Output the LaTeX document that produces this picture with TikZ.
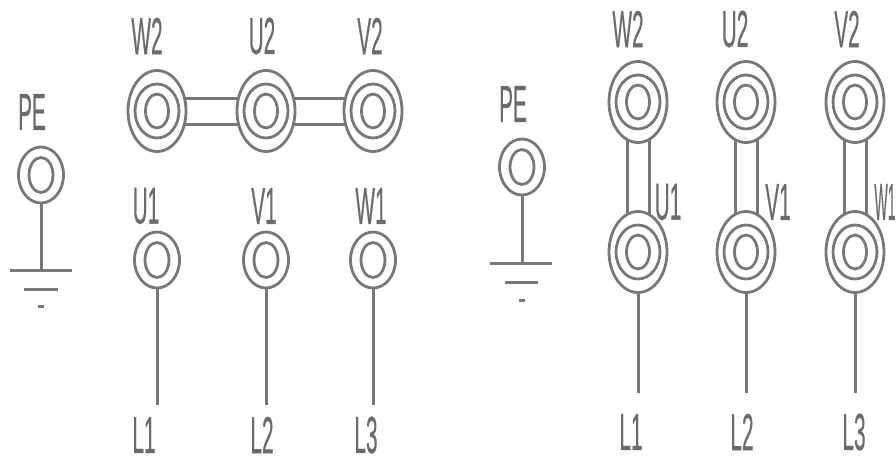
\documentclass[tikz,border=0pt]{standalone}
\usepackage{fontspec}
\setmainfont{Liberation Sans}[FakeBold=0.6]
\usetikzlibrary{shapes.geometric,calc}
\definecolor{ink}{gray}{0.47}
\definecolor{labink}{gray}{0.42}
\tikzset{
 x=1pt,y=-1pt,
 ring/.style={ellipse,draw=ink,line width=2.8pt,inner sep=0pt,fill=none},
 bigout/.style={ring,minimum width=58pt,minimum height=81pt},
 bigmid/.style={ring,minimum width=44pt,minimum height=54pt},
 bigin/.style={ring,minimum width=23pt,minimum height=34pt},
 smallout/.style={ring,minimum width=45pt,minimum height=56pt},
 smallin/.style={ring,minimum width=24pt,minimum height=35pt},
 wire/.style={draw=ink,line width=3pt},
 lab/.style={inner sep=0pt,text=labink,font=\fontsize{52}{52}\selectfont,xscale=0.4},
 labtight/.style={lab,xscale=0.68},
}
\newcommand{\bigterm}[2]{\node[bigout] (#1) at (#2) {}; \node[bigmid] (#1m) at (#2) {}; \node[bigin] (#1i) at (#2) {};}
\newcommand{\smallterm}[2]{\node[smallout] (#1) at (#2) {}; \node[smallin] (#1i) at (#2) {};}
\begin{document}
\begin{tikzpicture}
\useasboundingbox (0,0) rectangle (896,458);
% left block
\node[lab] (lPE) at (32,112) {PE};
\smallterm{lp}{41,175}
\node[lab] at (147,36) {W2};
\node[lab] at (262,36) {U2};
\node[lab] at (370,36) {V2};
\bigterm{lw}{157,111}
\bigterm{lu}{266,111}
\bigterm{lv}{373,111}
\node[lab] at (146,206) {U1};
\node[lab] at (264,206) {V1};
\node[lab] at (371,206) {W1};
\smallterm{la}{157,260}
\smallterm{lb}{266,260}
\smallterm{lc}{373,260}
\node[lab] (ll1) at (144,435) {L1};
\node[lab] (ll2) at (262,435) {L2};
\node[lab] (ll3) at (366,435) {L3};
\coordinate (lg) at (41,270);
\coordinate (lg1) at (10,270); \coordinate (lg2) at (72,270);
\coordinate (lh1) at (24,289); \coordinate (lh2) at (58,289);
\coordinate (lk1) at (38,306); \coordinate (lk2) at (44,306);
\draw[wire] (lp.south) -- (lg);
\draw[wire] (lg1) -- (lg2);
\draw[wire] (lh1) -- (lh2);
\draw[wire] (lk1) -- (lk2);
\foreach \a/\b in {lw/lu,lu/lv}{
 \draw[wire] ($(\a)+(27.5,-13)$) -- ($(\b)+(-27.5,-13)$);
 \draw[wire] ($(\a)+(27.5,13)$) -- ($(\b)+(-27.5,13)$);
}
\coordinate (le1) at (157,405); \coordinate (le2) at (266,405); \coordinate (le3) at (373,405);
\draw[wire] (la.south) -- (le1);
\draw[wire] (lb.south) -- (le2);
\draw[wire] (lc.south) -- (le3);
% right block
\node[lab] at (513,104) {PE};
\smallterm{rp}{522,167}
\node[lab] at (628,29) {W2};
\node[lab] at (735,29) {U2};
\node[lab] at (847,29) {V2};
\bigterm{rwt}{638,102}
\bigterm{rut}{746,102}
\bigterm{rvt}{855,102}
\bigterm{rwb}{638,252}
\bigterm{rub}{746,252}
\bigterm{rvb}{855,252}
\node[lab] at (668,202) {U1};
\node[lab] at (778,202) {V1};
\node[labtight] at (885,202) {W1};
\node[lab] at (631,432) {L1};
\node[lab] at (742,432) {L2};
\node[lab] at (854,432) {L3};
\coordinate (rg) at (522,263);
\coordinate (rg1) at (490,263); \coordinate (rg2) at (552,263);
\coordinate (rh1) at (505,282); \coordinate (rh2) at (538,282);
\coordinate (rk1) at (519,300); \coordinate (rk2) at (525,300);
\draw[wire] (rp.south) -- (rg);
\draw[wire] (rg1) -- (rg2);
\draw[wire] (rh1) -- (rh2);
\draw[wire] (rk1) -- (rk2);
\foreach \a/\b in {rwt/rwb,rut/rub,rvt/rvb}{
 \draw[wire] ($(\a)+(-11,37.5)$) -- ($(\b)+(-11,-37.5)$);
 \draw[wire] ($(\a)+(11,37.5)$) -- ($(\b)+(11,-37.5)$);
}
\coordinate (re1) at (638,393); \coordinate (re2) at (746,393); \coordinate (re3) at (855,393);
\draw[wire] (rwb.south) -- (re1);
\draw[wire] (rub.south) -- (re2);
\draw[wire] (rvb.south) -- (re3);
\end{tikzpicture}
\end{document}
